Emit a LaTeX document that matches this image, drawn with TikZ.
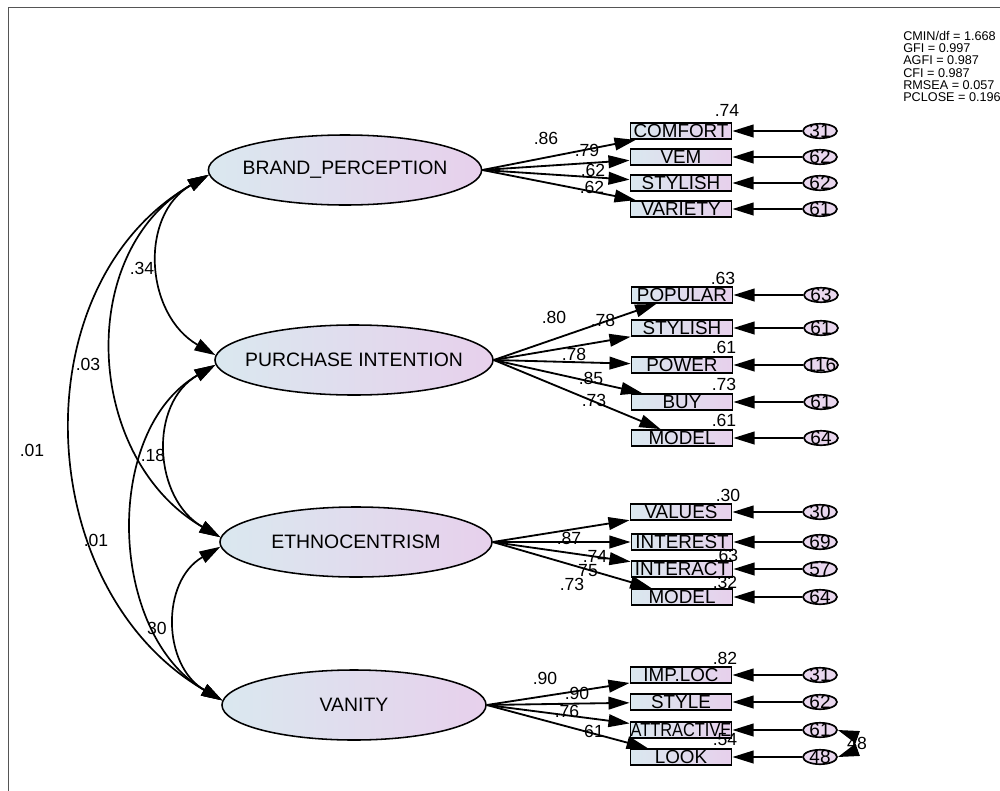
\documentclass[tikz,border=0pt]{standalone}
\usepackage{fontspec}
\usepackage{graphicx}
\setmainfont{Liberation Sans}
\usetikzlibrary{shapes.geometric,arrows.meta}

\definecolor{shadeL}{HTML}{DAE8EF}
\definecolor{shadeR}{HTML}{E7D0EC}
\definecolor{errfill}{HTML}{E9D7EE}
\definecolor{framec}{HTML}{555555}

\tikzset{
  latent/.style={ellipse, draw, line width=1.1pt, left color=shadeL, right color=shadeR,
    minimum width=6.8cm, minimum height=1.75cm, inner xsep=-0.5cm, inner ysep=0pt,
    font=\fontsize{13.8}{14}\selectfont},
  item/.style={rectangle, draw, line width=1.3pt, left color=shadeL, right color=shadeR,
    minimum width=2.525cm, minimum height=0.4cm, inner xsep=-0.25cm, inner ysep=0pt,
    font=\fontsize{13.4}{14}\selectfont},
  err/.style={ellipse, draw, line width=1.2pt, fill=errfill,
    minimum width=0.85cm, minimum height=0.36cm, inner xsep=-0.25cm, inner ysep=-0.1cm,
    font=\fontsize{13.5}{14}\selectfont},
  coef/.style={inner sep=0pt, font=\fontsize{12.5}{13}\selectfont},
  load/.style={-{Triangle[length=15pt,width=9pt]}, line width=1.3pt},
  corr/.style={{Triangle[length=15pt,width=9pt]}-{Triangle[length=15pt,width=9pt]}, line width=1.2pt},
  swing/.style={out=210, in=150, looseness=1.15},
}

\begin{document}
\begin{tikzpicture}[x=0.025cm,y=-0.025cm]
  \useasboundingbox (0,0) rectangle (1000,790);
  \draw[framec, line width=0.6pt] (8,7) rectangle (1012,800);

  % latent variables
  \node[latent, minimum width=6.83cm] (bp) at (345,170) {BRAND\_PERCEPTION};
  \node[latent, minimum width=6.95cm] (pint) at (354,360) {PURCHASE INTENTION};
  \node[latent, minimum width=6.8cm] (eth) at (356,542) {ETHNOCENTRISM};
  \node[latent, minimum width=6.6cm] (van) at (354,705) {VANITY};

  % observed items
  \node[item] (comfort) at (681,131) {COMFORT};
  \node[item] (vem) at (681,157) {VEM};
  \node[item] (stylA) at (681,183) {STYLISH};
  \node[item] (variety) at (681,209) {VARIETY};
  \node[item] (popular) at (682,295) {POPULAR};
  \node[item] (stylB) at (682,328) {STYLISH};
  \node[item] (power) at (682,365) {POWER};
  \node[item] (buy) at (682,402) {BUY};
  \node[item] (modelA) at (682,438) {MODEL};
  \node[item] (values) at (681,512) {VALUES};
  \node[item] (interest) at (682,542) {INTEREST};
  \node[item] (interact) at (682,569) {INTERACT};
  \node[item] (modelB) at (682,597) {MODEL};
  \node[item] (imploc) at (681,675) {IMP.LOC};
  \node[item] (style) at (681,702) {STYLE};
  \node[item] (attract) at (681,730) {\scalebox{0.87}[1]{ATTRACTIVE}};
  \node[item] (look) at (681,757) {LOOK};

  % error terms
  \node[err] (e1) at (820,131) {31};
  \node[err] (e2) at (820,157) {62};
  \node[err] (e3) at (820,183) {62};
  \node[err] (e4) at (820,209) {61};
  \node[err] (e5) at (821,295) {63};
  \node[err] (e6) at (821,328) {61};
  \node[err] (e7) at (821,365) {116};
  \node[err] (e8) at (821,402) {61};
  \node[err] (e9) at (821,438) {64};
  \node[err] (e10) at (820,512) {30};
  \node[err] (e11) at (820,542) {69};
  \node[err] (e12) at (820,569) {57};
  \node[err] (e13) at (820,597) {64};
  \node[err] (e14) at (820,675) {31};
  \node[err] (e15) at (820,702) {62};
  \node[err] (e16) at (820,730) {61};
  \node[err] (e17) at (820,757) {48};

  % loadings
  \draw[load] (bp.east) -- (comfort);
  \draw[load] (bp.east) -- (vem);
  \draw[load] (bp.east) -- (stylA);
  \draw[load] (bp.east) -- (variety);
  \draw[load] (pint.east) -- (popular);
  \draw[load] (pint.east) -- (stylB);
  \draw[load] (pint.east) -- (power);
  \draw[load] (pint.east) -- (buy);
  \draw[load] (pint.east) -- (modelA);
  \draw[load] (eth.east) -- (values);
  \draw[load] (eth.east) -- (interest);
  \draw[load] (eth.east) -- (interact);
  \draw[load] (eth.east) -- (modelB);
  \draw[load] (van.east) -- (imploc);
  \draw[load] (van.east) -- (style);
  \draw[load] (van.east) -- (attract);
  \draw[load] (van.east) -- (look);

  \draw[load] (e1) -- (comfort);
  \draw[load] (e2) -- (vem);
  \draw[load] (e3) -- (stylA);
  \draw[load] (e4) -- (variety);
  \draw[load] (e5) -- (popular);
  \draw[load] (e6) -- (stylB);
  \draw[load] (e7) -- (power);
  \draw[load] (e8) -- (buy);
  \draw[load] (e9) -- (modelA);
  \draw[load] (e10) -- (values);
  \draw[load] (e11) -- (interest);
  \draw[load] (e12) -- (interact);
  \draw[load] (e13) -- (modelB);
  \draw[load] (e14) -- (imploc);
  \draw[load] (e15) -- (style);
  \draw[load] (e16) -- (attract);
  \draw[load] (e17) -- (look);

  % correlations between factors
  \draw[corr] (bp.182) to[swing] (pint.178);
  \draw[corr] (bp.182) to[swing, looseness=1.1] (eth.178);
  \draw[corr] (bp.182) to[swing, looseness=1.07] (van.178);
  \draw[corr] (pint.182) to[swing] (eth.178);
  \draw[corr] (pint.182) to[swing, looseness=1.0] (van.178);
  \draw[corr] (eth.182) to[swing] (van.178);
  \draw[corr] (e16.east) to[out=-20,in=20,looseness=1.6] (e17.east);

  \node[coef] (a1) at (142,268) {.34};
  \node[coef] (a2) at (88,364) {.03};
  \node[coef] (a3) at (32,450) {.01};
  \node[coef] (a4) at (153,455) {.18};
  \node[coef] (a5) at (96,540) {.01};
  \node[coef] (a6) at (157,628) {30};
  \node[coef] (a7) at (857,743) {48};

  % standardized loadings
  \node[coef] (c1) at (546,138) {.86};
  \node[coef] (c2) at (587,150) {.79};
  \node[coef] (c3) at (593,170) {.62};
  \node[coef] (c4) at (592,187) {.62};
  \node[coef] (c5) at (554,317) {.80};
  \node[coef] (c6) at (603,320) {.78};
  \node[coef] (c7) at (574,354) {.78};
  \node[coef] (c8) at (591,378) {.85};
  \node[coef] (c9) at (594,400) {.73};
  \node[coef] (c10) at (569,538) {.87};
  \node[coef] (c11) at (595,556) {.74};
  \node[coef] (c12) at (588,571) {75};
  \node[coef] (c13) at (572,584) {.73};
  \node[coef] (c14) at (545,678) {.90};
  \node[coef] (c15) at (577,693) {.90};
  \node[coef] (c16) at (567,711) {.76};
  \node[coef] (c17) at (594,731) {61};

  % squared multiple correlations
  \node[coef] (r1) at (727,110) {.74};
  \node[coef] (r2) at (723,278) {.63};
  \node[coef] (r3) at (724,347) {.61};
  \node[coef] (r4) at (724,384) {.73};
  \node[coef] (r5) at (724,420) {.61};
  \node[coef] (r6) at (728,495) {.30};
  \node[coef] (r7) at (726,555) {.63};
  \node[coef] (r8) at (725,582) {.32};
  \node[coef] (r9) at (725,658) {.82};
  \node[coef] (r10) at (725,740) {.54};

  % fit indices
  \node[anchor=north west, align=left, inner sep=0pt, font=\fontsize{9}{8.7}\selectfont] (gof) at (903,31)
    {CMIN/df = 1.668\\GFI = 0.997\\AGFI = 0.987\\CFI = 0.987\\RMSEA = 0.057\\PCLOSE = 0.196};
\end{tikzpicture}
\end{document}
